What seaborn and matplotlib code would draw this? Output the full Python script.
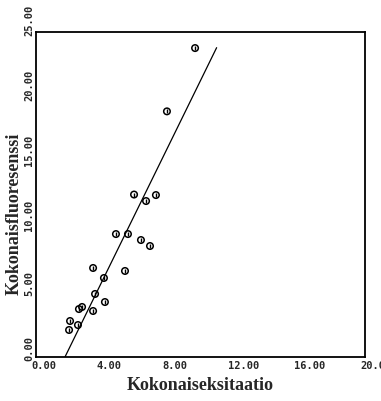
import numpy as np
import pandas as pd
import matplotlib
matplotlib.use("Agg")
import matplotlib.pyplot as plt
import matplotlib.transforms as mtransforms
import seaborn as sns

sns.set_style("white")

eksitaatio = [9.67, 7.96, 5.96, 7.29, 6.69, 4.86, 5.59, 6.38, 6.93, 3.47,
              5.41, 4.13, 3.59, 4.19, 2.80, 2.61, 3.47, 2.07, 2.55, 2.01]
fluoresenssi = [23.77, 18.90, 12.50, 12.46, 12.00, 9.46, 9.46, 9.00, 8.54, 6.85,
                6.62, 6.08, 4.85, 4.23, 3.85, 3.69, 3.54, 2.77, 2.46, 2.08]

# fitted line end points
fit_x = [1.76, 10.98]
fit_y = [0.0, 23.8]

x_ticks = [0, 4, 8, 12, 16, 20]
y_ticks = [0, 5, 10, 15, 20, 25]

df = pd.DataFrame({"x": eksitaatio, "y": fluoresenssi})

fig = plt.figure(figsize=(3.81, 4.01), dpi=100)
ax = fig.add_axes([0.0945, 0.1097, 0.8635, 0.8103])

sns.scatterplot(data=df, x="x", y="y", ax=ax, marker="o", s=22,
                facecolor="none", edgecolor="black", linewidth=1.1)
sns.scatterplot(data=df, x="x", y="y", ax=ax, marker="|", s=6,
                color="black", linewidth=1.0)
sns.lineplot(x=fit_x, y=fit_y, ax=ax, color="black", linewidth=0.9)

ax.set_xlim(0, 20)
ax.set_ylim(0, 25)
ax.set_xticks(x_ticks)
ax.set_yticks(y_ticks)
ax.set_xticklabels(["%.2f" % v for v in x_ticks], family="DejaVu Sans Mono",
                   fontsize=7.5, fontweight="bold", ha="left")
ax.set_yticklabels(["%.2f" % v for v in y_ticks], family="DejaVu Sans Mono",
                   fontsize=7.5, fontweight="bold", rotation=90, va="bottom")
ax.tick_params(direction="in", length=4, width=1, color="black")
ax.tick_params(axis="x", pad=3)
ax.tick_params(axis="y", pad=1.5)
ax.set_xticks(np.arange(0, 20.1, 2), minor=True)
ax.set_yticks(np.arange(0, 25.1, 2.5), minor=True)
ax.tick_params(which="minor", direction="in", length=2, width=0.8, color="black")

# shift tick labels a little like the original printout
xoff = mtransforms.ScaledTranslation(-5 / 100, 0, fig.dpi_scale_trans)
for lab in ax.get_xticklabels():
    lab.set_transform(lab.get_transform() + xoff)
yoff = mtransforms.ScaledTranslation(0, -4 / 100, fig.dpi_scale_trans)
for lab in ax.get_yticklabels():
    lab.set_transform(lab.get_transform() + yoff)

for sp in ax.spines.values():
    sp.set_color("black")
    sp.set_linewidth(1.3)

ax.set_xlabel("Kokonaiseksitaatio", family="Liberation Serif", fontweight="bold",
              fontsize=13, labelpad=4)
ax.set_ylabel("Kokonaisfluoresenssi", family="Liberation Serif", fontweight="bold",
              fontsize=13, labelpad=0)
ax.yaxis.set_label_coords(-0.04, 0.44)

fig.savefig("out.png", dpi=100)
